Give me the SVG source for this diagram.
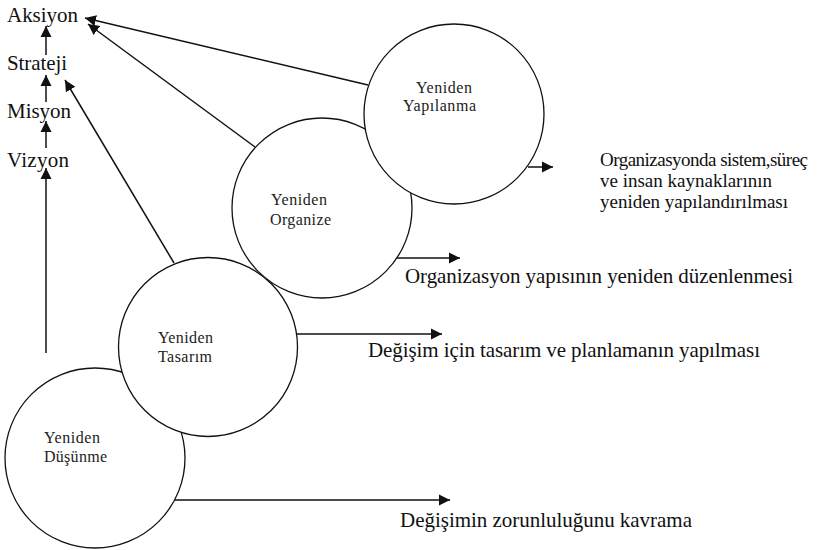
<svg xmlns="http://www.w3.org/2000/svg" width="823" height="550" viewBox="0 0 823 550">
<style>
.bg{fill:#fff}
.c{fill:#fff;stroke:#111;stroke-width:1.3}
.ln{stroke:#111;stroke-width:1.5;fill:none}
text{font-family:'Liberation Serif','Times New Roman',Tinos,'DejaVu Serif','Noto Serif',serif;fill:#111}
.lbl{font-size:21px}
.blk{font-size:19px}
.ct{font-size:16px;fill:#222}
</style>
<defs>
<marker id="ah" markerUnits="userSpaceOnUse" markerWidth="12" markerHeight="12" viewBox="0 0 12 12" refX="11" refY="6" orient="auto">
<path d="M0,0.5 L11,6 L0,11.5 Z" fill="#111"/>
</marker>
</defs>
<rect class="bg" x="0" y="0" width="823" height="550"/>
<g id="labels">
<text class="lbl" x="7" y="22" textLength="71">Aksiyon</text>
<text class="lbl" x="7" y="70" textLength="60">Strateji</text>
<text class="lbl" x="7" y="118" textLength="64">Misyon</text>
<text class="lbl" x="7" y="167" textLength="62">Vizyon</text>
</g>
<g id="connectors">
<line class="ln" x1="46" y1="55" x2="46" y2="26" marker-end="url(#ah)"/>
<line class="ln" x1="46" y1="102" x2="46" y2="75" marker-end="url(#ah)"/>
<line class="ln" x1="46" y1="148" x2="46" y2="121" marker-end="url(#ah)"/>
<line class="ln" x1="46" y1="353" x2="46" y2="168" marker-end="url(#ah)"/>
<line class="ln" x1="368" y1="85" x2="85" y2="18" marker-end="url(#ah)"/>
<line class="ln" x1="255" y1="147" x2="88" y2="24" marker-end="url(#ah)"/>
<line class="ln" x1="174" y1="263" x2="65" y2="80" marker-end="url(#ah)"/>
<line class="ln" x1="528" y1="167" x2="553" y2="167" marker-end="url(#ah)"/>
<line class="ln" x1="397" y1="258" x2="460" y2="258" marker-end="url(#ah)"/>
<line class="ln" x1="297" y1="334" x2="442" y2="334" marker-end="url(#ah)"/>
<line class="ln" x1="174" y1="500" x2="450" y2="500" marker-end="url(#ah)"/>
</g>
<g id="dusunme">
<circle class="c" cx="95" cy="458" r="90"/>
<text class="ct" x="44" y="443" textLength="56">Yeniden</text>
<text class="ct" x="44" y="462" textLength="63">Düşünme</text>
</g>
<g id="tasarim">
<circle class="c" cx="208" cy="347" r="89.5"/>
<text class="ct" x="158" y="343" textLength="55">Yeniden</text>
<text class="ct" x="158" y="362" textLength="54">Tasarım</text>
</g>
<g id="organize">
<circle class="c" cx="322" cy="208" r="90"/>
<text class="ct" x="271" y="205" textLength="56">Yeniden</text>
<text class="ct" x="270" y="225" textLength="61">Organize</text>
</g>
<g id="yapilanma">
<circle class="c" cx="454" cy="114" r="90"/>
<text class="ct" x="416" y="93" textLength="56">Yeniden</text>
<text class="ct" x="403" y="111" textLength="73">Yapılanma</text>
</g>
<g id="outcomes">
<text class="blk" x="600" y="166" textLength="208">Organizasyonda sistem,süreç</text>
<text class="blk" x="600" y="187" textLength="172">ve insan kaynaklarının</text>
<text class="blk" x="600" y="208" textLength="188">yeniden yapılandırılması</text>
<text class="lbl" x="405" y="283" textLength="388">Organizasyon yapısının yeniden düzenlenmesi</text>
<text class="lbl" x="368" y="357" textLength="392">Değişim için tasarım ve planlamanın yapılması</text>
<text class="lbl" x="400" y="527" textLength="292">Değişimin zorunluluğunu kavrama</text>
</g>
</svg>
